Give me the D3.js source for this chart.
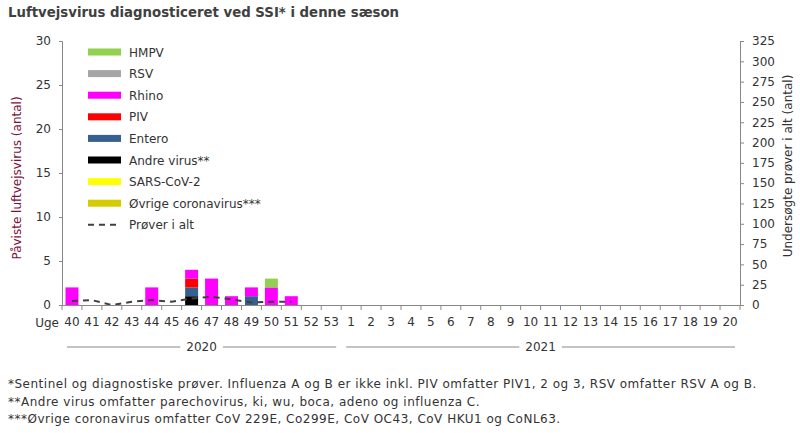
<!DOCTYPE html>
<html><head><meta charset="utf-8">
<script src="https://cdn.jsdelivr.net/npm/d3@7/dist/d3.min.js"></script>
<style>
body{margin:0;background:#fff;}
svg{display:block;font-family:"DejaVu Sans",sans-serif;}
</style></head>
<body><svg id="c" width="800" height="433"></svg>
<script>
const weeks = ["40","41","42","43","44","45","46","47","48","49","50","51","52","53","1","2","3","4","5","6","7","8","9","10","11","12","13","14","15","16","17","18","19","20"];
const years = [{label:"2020", from:0, to:14},{label:"2021", from:14, to:34}];
const seriesNames = ["Øvrige coronavirus***","SARS-CoV-2","Andre virus**","Entero","PIV","Rhino","RSV","HMPV"];
const seriesColors = ["#d4cc00","#ffff00","#000000","#35608f","#ff0000","#ff00ff","#a6a6a6","#92d050"];
const ovrigeCorona = [0,0,0,0,0,0,0,0,0,0,0,0,0,0,0,0,0,0,0,0,0,0,0,0,0,0,0,0,0,0,0,0,0,0];
const sarsCov2     = [0,0,0,0,0,0,0,0,0,0,0,0,0,0,0,0,0,0,0,0,0,0,0,0,0,0,0,0,0,0,0,0,0,0];
const andreVirus   = [0,0,0,0,0,0,1,0,0,0,0,0,0,0,0,0,0,0,0,0,0,0,0,0,0,0,0,0,0,0,0,0,0,0];
const entero       = [0,0,0,0,0,0,1,0,0,1,0,0,0,0,0,0,0,0,0,0,0,0,0,0,0,0,0,0,0,0,0,0,0,0];
const piv          = [0,0,0,0,0,0,1,0,0,0,0,0,0,0,0,0,0,0,0,0,0,0,0,0,0,0,0,0,0,0,0,0,0,0];
const rhino        = [2,0,0,0,2,0,1,3,1,1,2,1,0,0,0,0,0,0,0,0,0,0,0,0,0,0,0,0,0,0,0,0,0,0];
const rsv          = [0,0,0,0,0,0,0,0,0,0,0,0,0,0,0,0,0,0,0,0,0,0,0,0,0,0,0,0,0,0,0,0,0,0];
const hmpv         = [0,0,0,0,0,0,0,0,0,0,1,0,0,0,0,0,0,0,0,0,0,0,0,0,0,0,0,0,0,0,0,0,0,0];
const proverIAlt   = [5,6,0,4,6,4,8,10,7,3,4,4,null,null,null,null,null,null,null,null,null,null,null,null,null,null,null,null,null,null,null,null,null,null];
const leftTicks = [0,5,10,15,20,25,30];
const rightTicks = [0,25,50,75,100,125,150,175,200,225,250,275,300,325];
const legendNames = ["HMPV","RSV","Rhino","PIV","Entero","Andre virus**","SARS-CoV-2","Øvrige coronavirus***","Prøver i alt"];
const footnotes = [
 "*Sentinel og diagnostiske prøver. Influenza A og B er ikke inkl.  PIV omfatter PIV1, 2 og 3, RSV omfatter RSV A og B.",
 "**Andre virus omfatter parechovirus, ki, wu, boca, adeno og influenza C.",
 "***Øvrige coronavirus omfatter CoV 229E, Co299E, CoV OC43, CoV HKU1 og CoNL63."
];

const seriesValues = [ovrigeCorona,sarsCov2,andreVirus,entero,piv,rhino,rsv,hmpv];
const rows = weeks.map((w,i)=>{const r={week:w}; seriesNames.forEach((n,j)=>r[n]=seriesValues[j][i]); return r;});

const svg = d3.select("#c");
const L=62, R=740, T=41, B=305;
const textCol="#333";
const axisCol="#888";

const x = d3.scaleBand().domain(weeks).range([L,R]).paddingInner(0.35).paddingOuter(0.175);
const y = d3.scaleLinear().domain([0,30]).range([B,T]);
const y2 = d3.scaleLinear().domain([0,325]).range([B,T]);
const color = d3.scaleOrdinal().domain(seriesNames).range(seriesColors);

// title
svg.append("text").attr("x",8).attr("y",17).attr("font-size",13.3).attr("font-weight","bold").attr("fill","#404040").text("Luftvejsvirus diagnosticeret ved SSI* i denne sæson");

// bars
const stack = d3.stack().keys(seriesNames)(rows);
svg.append("g").selectAll("g").data(stack).join("g").attr("fill",d=>color(d.key))
 .selectAll("rect").data(d=>d.filter(p=>p[1]-p[0]>0)).join("rect")
 .attr("x",d=>x(d.data.week)).attr("width",x.bandwidth())
 .attr("y",d=>y(d[1])).attr("height",d=>y(d[0])-y(d[1]));

// line
const line = d3.line().defined(d=>d!=null).x((d,i)=>x(weeks[i])+x.bandwidth()/2).y(d=>y2(d));
svg.append("path").datum(proverIAlt).attr("d",line).attr("fill","none").attr("stroke","#404040").attr("stroke-width",2).attr("stroke-dasharray","6,5");

// left axis
const ya = svg.append("g").attr("transform",`translate(${L},0)`).call(d3.axisLeft(y).tickValues(leftTicks).tickSize(3).tickPadding(8));
ya.select(".domain").attr("stroke",axisCol);
ya.selectAll(".tick line").attr("stroke",axisCol);
ya.selectAll("text").attr("font-size",12).attr("fill",textCol).attr("font-family","DejaVu Sans");

// right axis
const yb = svg.append("g").attr("transform",`translate(${R},0)`).call(d3.axisRight(y2).tickValues(rightTicks).tickSize(4).tickPadding(8));
yb.select(".domain").attr("stroke",axisCol);
yb.selectAll(".tick line").attr("stroke",axisCol);
yb.selectAll("text").attr("font-size",12).attr("fill",textCol).attr("font-family","DejaVu Sans");

// x axis
const xa = svg.append("g").attr("transform",`translate(0,${B})`).call(d3.axisBottom(x).tickSize(0).tickPadding(12));
xa.select(".domain").attr("stroke",axisCol);
xa.selectAll("text").attr("font-size",12).attr("fill",textCol).attr("font-family","DejaVu Sans");
const step = x.step();
svg.append("g").selectAll("line").data(d3.range(weeks.length+1)).join("line")
 .attr("x1",i=>L+i*step).attr("x2",i=>L+i*step).attr("y1",B).attr("y2",B+5).attr("stroke",axisCol);
svg.append("text").attr("x",59).attr("y",B+22).attr("text-anchor","end").attr("font-size",12).attr("fill",textCol).text("Uge");

// year groups
years.forEach(g=>{
  const x0=L+g.from*step+5, x1=L+g.to*step-5, cx=(L+g.from*step+L+g.to*step)/2;
  const t = svg.append("text").attr("x",cx).attr("y",B+46).attr("text-anchor","middle").attr("font-size",12).attr("fill",textCol).text(g.label);
  const w = t.node().getComputedTextLength();
  svg.append("line").attr("x1",x0).attr("x2",cx-w/2-6).attr("y1",B+42).attr("y2",B+42).attr("stroke",axisCol);
  svg.append("line").attr("x1",cx+w/2+6).attr("x2",x1).attr("y1",B+42).attr("y2",B+42).attr("stroke",axisCol);
});

// axis titles
svg.append("text").attr("transform",`translate(21,${(T+B)/2+5}) rotate(-90)`).attr("text-anchor","middle").attr("font-size",12).attr("fill","#7a1040").text("Påviste luftvejsvirus (antal)");
svg.append("text").attr("transform",`translate(792,${(T+B)/2-7}) rotate(-90)`).attr("text-anchor","middle").attr("font-size",12).attr("fill",textCol).text("Undersøgte prøver i alt (antal)");

// legend
const leg = svg.append("g");
legendNames.forEach((n,i)=>{
  const yy = 52 + i*21.6;
  if(i<legendNames.length-1){
    leg.append("rect").attr("x",88).attr("y",yy-3.5).attr("width",33).attr("height",7).attr("fill",color(n));
  } else {
    leg.append("line").attr("x1",88).attr("x2",121).attr("y1",yy).attr("y2",yy).attr("stroke","#404040").attr("stroke-width",2).attr("stroke-dasharray","6,5");
  }
  leg.append("text").attr("x",129).attr("y",yy+4.5).attr("font-size",12).attr("fill",textCol).text(n);
});

// footnotes
footnotes.forEach((f,i)=>{
  svg.append("text").attr("x",8).attr("y",388+i*17.5).attr("font-size",12).attr("letter-spacing",0.5).attr("fill",textCol).text(f);
});
</script></body></html>
